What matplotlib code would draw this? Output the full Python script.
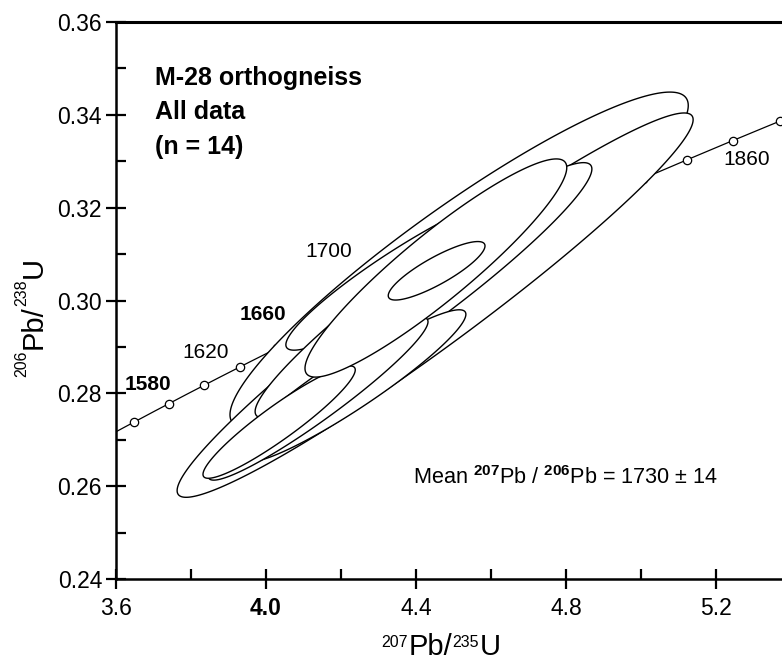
import numpy as np
import matplotlib
matplotlib.use("Agg")
import matplotlib.pyplot as plt
from matplotlib.ticker import MultipleLocator

plt.rcParams['font.family'] = ['Liberation Sans', 'DejaVu Sans']
plt.rcParams['mathtext.fontset'] = 'custom'
plt.rcParams['mathtext.rm'] = 'Liberation Sans'
plt.rcParams['mathtext.bf'] = 'Liberation Sans:bold'
plt.rcParams['mathtext.it'] = 'Liberation Sans:italic'

# ---- data: error ellipses (207Pb/235U, 206Pb/238U), drawn half-widths, correlation
ell_x    = [4.515, 4.451, 4.365, 4.420, 4.236, 4.139, 4.035, 4.453, 4.455]
ell_xerr = [0.611, 0.688, 0.312, 0.449, 0.297, 0.293, 0.203, 0.349, 0.129]
ell_y    = [0.3087, 0.2990, 0.3060, 0.3022, 0.2816, 0.2788, 0.2738, 0.3070, 0.3064]
ell_yerr = [0.0362, 0.0414, 0.0167, 0.0275, 0.0164, 0.0175, 0.0121, 0.0235, 0.0063]
ell_rho  = [0.92, 0.965, 0.93, 0.95, 0.94, 0.95, 0.93, 0.92, 0.85]

# ---- concordia (ages in Ma)
marker_ages = [1540, 1560, 1580, 1600, 1620, 1640, 1660, 1680, 1700, 1720, 1740,
               1760, 1780, 1800, 1820, 1840, 1860, 1880, 1900]
label_ages = [1580, 1620, 1660, 1700, 1860]
label_offsets = [(-21, 19), (-34, 14), (-51, 15), (-63, 41), (14, -19)]
label_bold = [True, False, True, False, False]
LAMBDA238 = 1.55125e-10
LAMBDA235 = 9.8485e-10

x_ticks = [3.6, 4.0, 4.4, 4.8, 5.2]
x_ticklabels = ['3.6', '4.0', '4.4', '4.8', '5.2']
y_ticks = [0.24, 0.26, 0.28, 0.30, 0.32, 0.34, 0.36]
y_ticklabels = ['0.24', '0.26', '0.28', '0.30', '0.32', '0.34', '0.36']

W, H = 782, 661
fig = plt.figure(figsize=(W/100, H/100), dpi=100)
ax = fig.add_axes([116/W, 1-579/H, (791-116)/W, (579-22)/H])
ax.set_xlim(3.6, 5.4)
ax.set_ylim(0.24, 0.36)

# concordia curve
ages = np.linspace(1500, 1950, 400)
cx = np.exp(LAMBDA235 * ages * 1e6) - 1
cy = np.exp(LAMBDA238 * ages * 1e6) - 1
ax.plot(cx, cy, color='black', lw=0.9, zorder=1)
ma = np.array(marker_ages, dtype=float)
ax.plot(np.exp(LAMBDA235 * ma * 1e6) - 1, np.exp(LAMBDA238 * ma * 1e6) - 1, 'o',
        ms=6, mfc='white', mec='black', mew=0.9, zorder=1.5)
for a, off, b in zip(label_ages, label_offsets, label_bold):
    px = np.exp(LAMBDA235 * a * 1e6) - 1
    py = np.exp(LAMBDA238 * a * 1e6) - 1
    ax.annotate(str(a), (px, py), xytext=off, textcoords='offset pixels',
                ha='center', va='center', fontsize=15,
                fontweight='bold' if b else 'normal', zorder=5)

# error ellipses (white filled, drawn in sequence)
t = np.linspace(0, 2*np.pi, 500)
for i, (x0, xe, y0, ye, r) in enumerate(zip(ell_x, ell_xerr, ell_y, ell_yerr, ell_rho)):
    ex = x0 + xe*np.cos(t)
    ey = y0 + ye*(r*np.cos(t) + np.sqrt(1 - r*r)*np.sin(t))
    ax.fill(ex, ey, facecolor='white', edgecolor='black', lw=1.0, zorder=2 + i*0.1)

# axes styling
ax.spines['right'].set_visible(False)
for s in ['left', 'bottom']:
    ax.spines[s].set_linewidth(1.8)
ax.spines['top'].set_linewidth(2.2)
ax.set_xticks(x_ticks)
ax.set_yticks(y_ticks)
ax.set_xticklabels(x_ticklabels)
ax.set_yticklabels(y_ticklabels)
ax.xaxis.set_minor_locator(MultipleLocator(0.2))
ax.yaxis.set_minor_locator(MultipleLocator(0.01))
ax.tick_params(which='major', direction='inout', length=14, width=1.6,
               labelsize=16.5, top=False, right=False)
ax.tick_params(which='minor', direction='in', length=7, width=1.6, top=False, right=False)
ax.tick_params(axis='x', which='major', pad=6)
ax.tick_params(axis='y', which='major', pad=3)
ax.get_xticklabels()[1].set_fontweight('bold')

# axis labels built from pieces (small superscript numbers, large element names)
renderer = fig.canvas.get_renderer()
BIG, SUP = 21, 11.5

def fx(px):
    return px / W

def fy(py):
    return 1 - py / H

def xlabel_pieces(pieces, x_start, base_py, sup_top_py):
    pos = x_start
    for txt, sup in pieces:
        if sup:
            tt = fig.text(fx(pos), fy(sup_top_py), txt, fontsize=SUP, ha='left', va='top')
        else:
            tt = fig.text(fx(pos), fy(base_py), txt, fontsize=BIG, ha='left', va='baseline')
        pos += tt.get_window_extent(renderer).width + (1 if sup else 0)

def ylabel_pieces(pieces, y_start, base_px, sup_top_px):
    pos = y_start
    for txt, sup in pieces:
        if sup:
            tt = fig.text(fx(sup_top_px), fy(pos), txt, fontsize=SUP, rotation=90,
                          rotation_mode='anchor', ha='left', va='top')
        else:
            tt = fig.text(fx(base_px), fy(pos), txt, fontsize=BIG, rotation=90,
                          rotation_mode='anchor', ha='left', va='baseline')
        pos -= tt.get_window_extent(renderer).height + (1 if sup else 0)

xlabel_pieces([('207', True), ('Pb/', False), ('235', True), ('U', False)], 381, 655, 635)
ylabel_pieces([('206', True), ('Pb/', False), ('238', True), ('U', False)], 377, 42, 14)

ax.text(fx(155), fy(66), 'M-28 orthogneiss\nAll data\n(n = 14)', transform=fig.transFigure,
        fontsize=18, fontweight='bold', ha='left', va='top', linespacing=1.55)
ax.text(fx(413), fy(478), r'Mean $^{\mathbf{207}}$Pb / $^{\mathbf{206}}$Pb = 1730 $\pm$ 14',
        transform=fig.transFigure, fontsize=15.6, ha='left', va='center')

fig.savefig('out.png', dpi=100)
